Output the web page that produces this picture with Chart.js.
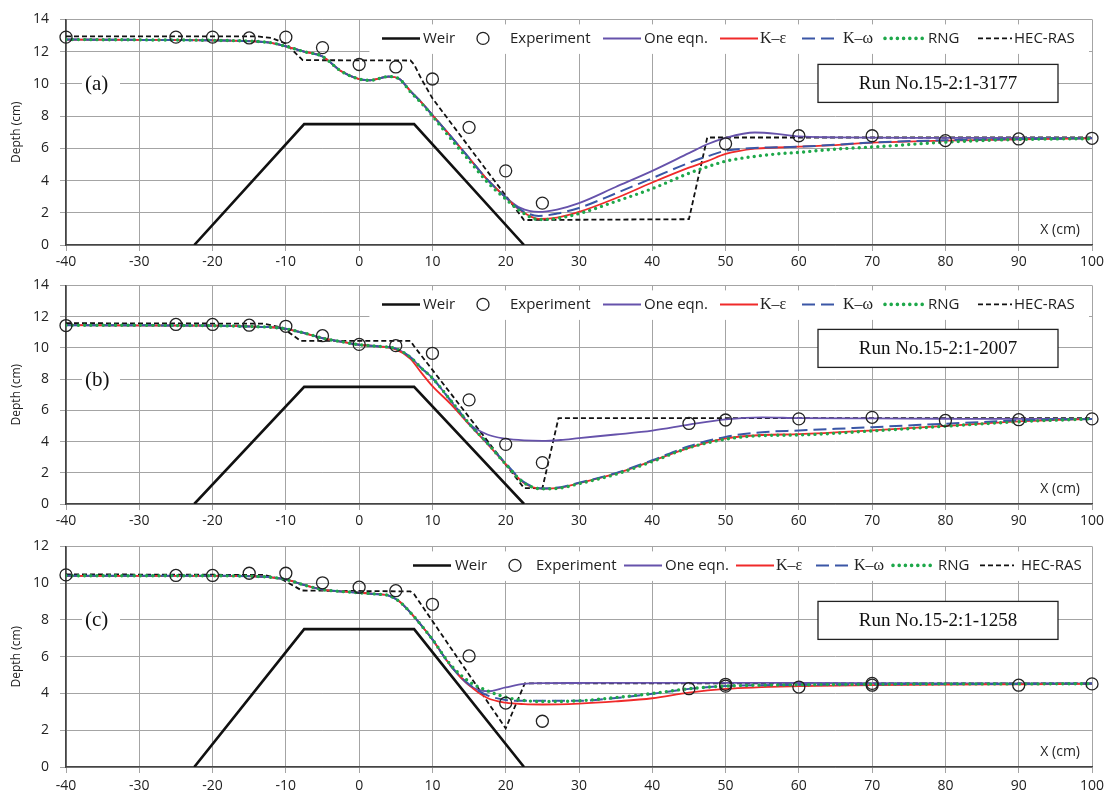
<!DOCTYPE html>
<html>
<head>
<meta charset="utf-8">
<script src="https://cdn.jsdelivr.net/npm/chart.js@4.4.1/dist/chart.umd.min.js"></script>
<style>
  html, body { margin: 0; padding: 0; background: #fff; }
  body { width: 1110px; height: 795px; position: relative; overflow: hidden; }
  canvas { position: absolute; left: 0; }
</style>
</head>
<body>
<canvas id="chartA" width="1110" height="275" style="top:0px"></canvas>
<canvas id="chartB" width="1110" height="266" style="top:266px"></canvas>
<canvas id="chartC" width="1110" height="268" style="top:527px"></canvas>
<script>
// weir profile (same in all three runs)
const weirX = [-22.5, -7.5, 7.5, 22.5];
const weirY = [0, 7.5, 7.5, 0];

// ---- (a) Run No.15-2:1-3177
const expXA = [-40, -25, -20, -15, -10, -5, 0, 5, 10, 15, 20, 25, 50, 60, 70, 80, 90, 100];
const expYA = [12.9, 12.9, 12.9, 12.85, 12.9, 12.25, 11.2, 11.05, 10.3, 7.3, 4.6, 2.6, 6.28, 6.78, 6.78, 6.48, 6.58, 6.62];
const modelXA = [-40, -30, -20, -15, -12, -10, -7.5, -5, -2.5, 0, 1.5, 4, 5.5, 7, 8.5, 10, 12.5, 15, 17.5, 20, 22, 24.5, 27, 30, 35, 40, 45, 47.5, 50, 54, 57, 60, 65, 70, 80, 90, 100];
const oneEqnA = [12.75, 12.73, 12.7, 12.65, 12.55, 12.33, 12.0, 11.7, 10.8, 10.3, 10.22, 10.45, 10.3, 9.55, 8.85, 8.06, 6.75, 5.4, 4.05, 2.96, 2.3, 2.05, 2.2, 2.6, 3.6, 4.6, 5.7, 6.25, 6.65, 6.98, 6.9, 6.74, 6.68, 6.66, 6.65, 6.64, 6.64];
const kEpsA = [12.75, 12.73, 12.7, 12.65, 12.55, 12.33, 12.0, 11.7, 10.8, 10.3, 10.22, 10.45, 10.3, 9.55, 8.85, 8.06, 6.75, 5.4, 4.05, 2.96, 2.15, 1.62, 1.7, 2.05, 2.9, 3.88, 4.8, 5.2, 5.65, 5.98, 6.05, 6.1, 6.2, 6.35, 6.48, 6.55, 6.62];
const kOmA = [12.75, 12.73, 12.7, 12.65, 12.55, 12.33, 12.0, 11.7, 10.8, 10.3, 10.22, 10.45, 10.3, 9.55, 8.85, 8.06, 6.75, 5.4, 4.05, 2.96, 2.2, 1.8, 1.95, 2.3, 3.2, 4.15, 5.1, 5.5, 5.85, 6.02, 6.06, 6.1, 6.22, 6.36, 6.5, 6.57, 6.62];
const rngA = [12.75, 12.73, 12.7, 12.65, 12.55, 12.33, 12.0, 11.7, 10.8, 10.3, 10.22, 10.45, 10.3, 9.5, 8.8, 8.0, 6.6, 5.25, 3.9, 2.85, 2.1, 1.58, 1.65, 1.95, 2.7, 3.5, 4.45, 4.85, 5.2, 5.5, 5.65, 5.75, 5.95, 6.08, 6.38, 6.55, 6.6];
const hecXA = [-40, -14, -12, -10, -7.7, 7, 7.5, 8.5, 10, 22.5, 45, 47.5, 100];
const hecYA = [12.95, 12.95, 12.85, 12.5, 11.47, 11.45, 11.2, 10.3, 9.1, 1.55, 1.6, 6.67, 6.67];

// ---- (b) Run No.15-2:1-2007
const expXB = [-40, -25, -20, -15, -10, -5, 0, 5, 10, 15, 20, 25, 45, 50, 60, 70, 80, 90, 100];
const expYB = [11.43, 11.5, 11.5, 11.45, 11.38, 10.78, 10.22, 10.14, 9.65, 6.67, 3.82, 2.65, 5.16, 5.38, 5.45, 5.55, 5.35, 5.4, 5.45];
const modelXB = [-40, -20, -15, -12, -10, -7.5, -5, -2.5, 0, 2.5, 5, 7, 8.5, 10, 12.5, 15, 17.5, 20, 22.5, 25, 27.5, 30, 35, 40, 45, 50, 55, 60, 70, 80, 90, 100];
const oneEqnB = [11.45, 11.42, 11.37, 11.32, 11.22, 10.95, 10.62, 10.4, 10.2, 10.1, 9.95, 9.4, 8.7, 8.06, 6.6, 5.15, 4.45, 4.18, 4.07, 4.04, 4.1, 4.22, 4.45, 4.7, 5.08, 5.42, 5.55, 5.5, 5.48, 5.46, 5.45, 5.45];
const kEpsB = [11.45, 11.42, 11.37, 11.32, 11.22, 10.95, 10.62, 10.4, 10.2, 10.1, 9.9, 9.3, 8.4, 7.55, 6.4, 5.1, 3.85, 2.55, 1.35, 0.98, 1.05, 1.33, 1.94, 2.76, 3.6, 4.2, 4.42, 4.47, 4.71, 5.0, 5.29, 5.45];
const kOmB = [11.45, 11.42, 11.37, 11.32, 11.22, 10.95, 10.62, 10.4, 10.2, 10.1, 9.95, 9.4, 8.7, 8.06, 6.63, 5.15, 3.9, 2.6, 1.4, 1.0, 1.08, 1.36, 1.98, 2.8, 3.7, 4.3, 4.6, 4.71, 4.92, 5.14, 5.35, 5.45];
const rngB = [11.45, 11.42, 11.37, 11.32, 11.22, 10.95, 10.62, 10.4, 10.2, 10.1, 9.95, 9.4, 8.7, 8.06, 6.63, 5.15, 3.9, 2.55, 1.35, 0.97, 1.03, 1.3, 1.9, 2.72, 3.6, 4.15, 4.38, 4.42, 4.68, 4.98, 5.27, 5.45];
const hecXB = [-40, -13, -10.5, -8, 7, 7.5, 22.5, 25, 27.2, 100];
const hecYB = [11.58, 11.55, 11.3, 10.45, 10.45, 10.1, 1.02, 1.0, 5.5, 5.5];

// ---- (c) Run No.15-2:1-1258
const expXC = [-40, -25, -20, -15, -10, -5, 0, 5, 10, 15, 20, 25, 45, 50, 50, 60, 70, 70, 90, 100];
const expYC = [10.45, 10.42, 10.42, 10.54, 10.54, 10.02, 9.78, 9.59, 8.85, 6.04, 3.48, 2.49, 4.26, 4.4, 4.5, 4.35, 4.45, 4.55, 4.45, 4.52];
const modelXC = [-40, -20, -15, -12, -10, -7.5, -5, -2.5, 0, 2.5, 4, 5.5, 7, 8.5, 10, 12.5, 15, 17.5, 20, 22.5, 25, 30, 35, 40, 45, 50, 60, 70, 80, 90, 100];
const oneEqnC = [10.4, 10.4, 10.38, 10.32, 10.2, 9.9, 9.65, 9.55, 9.48, 9.4, 9.33, 9.0, 8.4, 7.7, 6.94, 5.5, 4.45, 4.12, 4.33, 4.52, 4.56, 4.57, 4.58, 4.58, 4.58, 4.58, 4.57, 4.56, 4.55, 4.55, 4.55];
const kEpsC = [10.4, 10.4, 10.38, 10.32, 10.2, 9.9, 9.65, 9.55, 9.48, 9.4, 9.33, 9.0, 8.4, 7.7, 6.94, 5.5, 4.45, 3.75, 3.5, 3.42, 3.4, 3.45, 3.57, 3.74, 4.05, 4.25, 4.4, 4.45, 4.48, 4.5, 4.52];
const kOmC = [10.4, 10.4, 10.38, 10.32, 10.2, 9.9, 9.65, 9.55, 9.48, 9.4, 9.33, 9.0, 8.4, 7.7, 6.94, 5.5, 4.5, 3.9, 3.65, 3.6, 3.6, 3.6, 3.75, 3.98, 4.25, 4.4, 4.47, 4.5, 4.52, 4.52, 4.53];
const rngC = [10.4, 10.4, 10.38, 10.32, 10.2, 9.9, 9.65, 9.55, 9.48, 9.4, 9.33, 9.0, 8.4, 7.7, 6.94, 5.55, 4.65, 4.15, 3.8, 3.62, 3.56, 3.6, 3.78, 4.0, 4.26, 4.4, 4.47, 4.5, 4.52, 4.52, 4.53];
const hecXC = [-40, -13, -10.5, -7.8, 7, 7.5, 20, 22.6, 100];
const hecYC = [10.48, 10.45, 10.2, 9.6, 9.55, 9.4, 2.1, 4.55, 4.55];

const PURPLE = '#6652ab';
const RED = '#f02a2a';
const BLUE = '#3a56a6';
const GREEN = '#1ea84a';
const SANS = '"Open Sans", "Liberation Sans", sans-serif';
const SERIF = '"Liberation Serif", "DejaVu Serif", serif';

const pts = (xs, ys) => xs.map((x, i) => ({ x: x, y: ys[i] }));

const legendItems = [
  { kind: 'weir', text: 'Weir' },
  { kind: 'exp', text: 'Experiment' },
  { kind: 'one', text: 'One eqn.' },
  { kind: 'keps', text: 'K\u2013\u03b5', serif: true },
  { kind: 'kom', text: 'K\u2013\u03c9', serif: true },
  { kind: 'rng', text: 'RNG' },
  { kind: 'hec', text: 'HEC-RAS' },
];

function strokeSample(ctx, kind, x0, x1, y) {
  ctx.save();
  ctx.beginPath();
  ctx.lineCap = 'butt';
  if (kind === 'weir') { ctx.strokeStyle = '#111'; ctx.lineWidth = 2.5; }
  if (kind === 'one') { ctx.strokeStyle = PURPLE; ctx.lineWidth = 2; }
  if (kind === 'keps') { ctx.strokeStyle = RED; ctx.lineWidth = 2; }
  if (kind === 'kom') { ctx.strokeStyle = BLUE; ctx.lineWidth = 2; ctx.setLineDash([13, 6]); }
  if (kind === 'rng') { ctx.strokeStyle = GREEN; ctx.lineWidth = 3.6; ctx.lineCap = 'round'; ctx.setLineDash([0, 6.2]); }
  if (kind === 'hec') { ctx.strokeStyle = '#111'; ctx.lineWidth = 1.8; ctx.setLineDash([5, 3]); }
  ctx.moveTo(x0, y);
  ctx.lineTo(x1, y);
  ctx.stroke();
  ctx.restore();
}

const panelDecor = {
  id: 'panelDecor',
  beforeDatasetsDraw(chart, args, o) {
    const { ctx, chartArea: a, scales } = chart;
    const x = scales.x, y = scales.y;
    ctx.save();
    ctx.fillStyle = '#fff';
    const bx = x.getPixelForValue(o.boxFrom);
    ctx.fillRect(bx, a.top + 5, a.right - 3 - bx, 29.5);
    // panel letter sits on a white patch over the grid line
    const ly = y.getPixelForValue(o.letterY);
    ctx.fillRect(a.left + 16, ly - 11, 38, 22);
    ctx.restore();
  },
  afterDatasetsDraw(chart, args, o) {
    const { ctx, chartArea: a, scales } = chart;
    const y = scales.y;
    ctx.save();
    ctx.fillStyle = '#222';
    ctx.textBaseline = 'middle';

    // legend
    const cy = a.top + 19;
    legendItems.forEach((it, i) => {
      const sx = o.legendSym[i];
      const tx = o.legendText[i];
      if (it.kind === 'exp') {
        ctx.beginPath();
        ctx.strokeStyle = '#222';
        ctx.lineWidth = 1.3;
        ctx.arc(sx, cy, 6, 0, Math.PI * 2);
        ctx.stroke();
      } else {
        strokeSample(ctx, it.kind, sx, sx + (it.kind === 'hec' ? 34 : 38), cy);
      }
      ctx.font = it.serif ? '16px ' + SERIF : '15px ' + SANS;
      ctx.textAlign = 'left';
      ctx.fillStyle = '#222';
      ctx.fillText(it.text, tx, cy);
    });

    // run box
    ctx.fillStyle = '#fff';
    ctx.strokeStyle = '#222';
    ctx.lineWidth = 1.3;
    ctx.fillRect(818, a.top + o.boxTop, 240, 38);
    ctx.strokeRect(818, a.top + o.boxTop, 240, 38);
    ctx.fillStyle = '#111';
    ctx.textAlign = 'center';
    ctx.font = '19px ' + SERIF;
    ctx.fillText(o.run, 938, a.top + o.boxTop + 20);

    // panel letter
    ctx.textAlign = 'left';
    ctx.font = '21px ' + SERIF;
    ctx.fillText(o.letter, a.left + 19, y.getPixelForValue(o.letterY) + 1);

    // x axis caption inside the plot
    ctx.textAlign = 'right';
    ctx.font = '14px ' + SANS;
    ctx.fillStyle = '#222';
    ctx.fillText('X (cm)', a.right - 12, a.bottom - 15);
    ctx.restore();
  }
};

function makePanel(id, p) {
  const modelLine = (label, xs, ys, color, extra) => Object.assign({
    label: label,
    data: pts(xs, ys),
    showLine: true,
    borderColor: color,
    backgroundColor: color,
    borderWidth: 1.8,
    pointRadius: 0,
    cubicInterpolationMode: 'monotone',
    fill: false,
  }, extra || {});

  new Chart(document.getElementById(id), {
    type: 'scatter',
    data: {
      datasets: [
        {
          label: 'Experiment',
          data: pts(p.expX, p.expY),
          showLine: false,
          pointRadius: 6,
          pointHoverRadius: 6,
          pointStyle: 'circle',
          pointBorderColor: '#222',
          pointBackgroundColor: 'rgba(0,0,0,0)',
          pointBorderWidth: 1.3,
          clip: false,
          order: 0,
        },
        modelLine('RNG', p.modelX, p.rng, GREEN, { borderWidth: 3.4, borderDash: [0, 6.2], borderCapStyle: 'round', order: 1 }),
        modelLine('K-\u03c9', p.modelX, p.kOm, BLUE, { borderWidth: 2, borderDash: [13, 6], order: 2 }),
        modelLine('K-\u03b5', p.modelX, p.kEps, RED, { borderWidth: 1.8, order: 3 }),
        modelLine('One eqn.', p.modelX, p.oneEqn, PURPLE, { borderWidth: 1.8, order: 4 }),
        {
          label: 'HEC-RAS',
          data: pts(p.hecX, p.hecY),
          showLine: true,
          borderColor: '#111',
          borderWidth: 1.8,
          borderDash: [5, 3],
          pointRadius: 0,
          tension: 0,
          order: 5,
        },
        {
          label: 'Weir',
          data: pts(weirX, weirY),
          showLine: true,
          borderColor: '#111',
          borderWidth: 2.6,
          pointRadius: 0,
          tension: 0,
          order: 6,
        },
      ],
    },
    options: {
      responsive: false,
      animation: false,
      devicePixelRatio: 1,
      layout: { padding: { top: p.padTop, right: 18, left: 0, bottom: 0 } },
      plugins: {
        legend: { display: false },
        tooltip: { enabled: false },
        panelDecor: {
          letter: p.letter,
          letterY: p.letterY,
          run: p.run,
          boxFrom: p.boxFrom,
          boxTop: p.boxTop,
          legendSym: p.legendSym,
          legendText: p.legendText,
        },
      },
      scales: {
        x: {
          type: 'linear',
          min: -40,
          max: 100,
          afterFit: (s) => { s.height = p.axisH; },
          ticks: { stepSize: 10, color: '#222', font: { size: 14, family: SANS }, padding: p.tickPad, maxRotation: 0 },
          grid: { color: '#a4a4a4', lineWidth: 1, tickLength: 6 },
          border: { color: '#444', width: 1.6 },
        },
        y: {
          min: 0,
          max: p.yMax,
          afterFit: (s) => { s.width = 66; },
          ticks: { stepSize: 2, color: '#222', font: { size: 14, family: SANS }, padding: 11 },
          grid: { color: '#a4a4a4', lineWidth: 1, tickLength: 6 },
          border: { color: '#444', width: 1.6 },
          title: { display: true, text: 'Depth (cm)', color: '#222', font: { size: 12, family: SANS }, padding: { top: 9, bottom: 0 } },
        },
      },
    },
    plugins: [panelDecor],
  });
}

const legendSymAB = [382, 483, 603, 720, 802, 885, 978];
const legendTextAB = [423, 510, 644, 760, 843, 928, 1014];
const legendSymC = [413, 515, 624, 736, 816, 893, 980];
const legendTextC = [455, 536, 665, 776, 854, 938, 1021];

makePanel('chartA', {
  expX: expXA, expY: expYA, modelX: modelXA, oneEqn: oneEqnA, kEps: kEpsA, kOm: kOmA, rng: rngA,
  hecX: hecXA, hecY: hecYA, yMax: 14, padTop: 16, axisH: 30, tickPad: 3,
  letter: '(a)', letterY: 10, run: 'Run No.15-2:1-3177', boxFrom: 1.4, boxTop: 45,
  legendSym: legendSymAB, legendText: legendTextAB,
});
makePanel('chartB', {
  expX: expXB, expY: expYB, modelX: modelXB, oneEqn: oneEqnB, kEps: kEpsB, kOm: kOmB, rng: rngB,
  hecX: hecXB, hecY: hecYB, yMax: 14, padTop: 11, axisH: 28, tickPad: 3,
  letter: '(b)', letterY: 8, run: 'Run No.15-2:1-2007', boxFrom: 1.4, boxTop: 44,
  legendSym: legendSymAB, legendText: legendTextAB,
});
makePanel('chartC', {
  expX: expXC, expY: expYC, modelX: modelXC, oneEqn: oneEqnC, kEps: kEpsC, kOm: kOmC, rng: rngC,
  hecX: hecXC, hecY: hecYC, yMax: 12, padTop: 9, axisH: 28, tickPad: 5,
  letter: '(c)', letterY: 8, run: 'Run No.15-2:1-1258', boxFrom: 6, boxTop: 55,
  legendSym: legendSymC, legendText: legendTextC,
});
</script>
</body>
</html>
